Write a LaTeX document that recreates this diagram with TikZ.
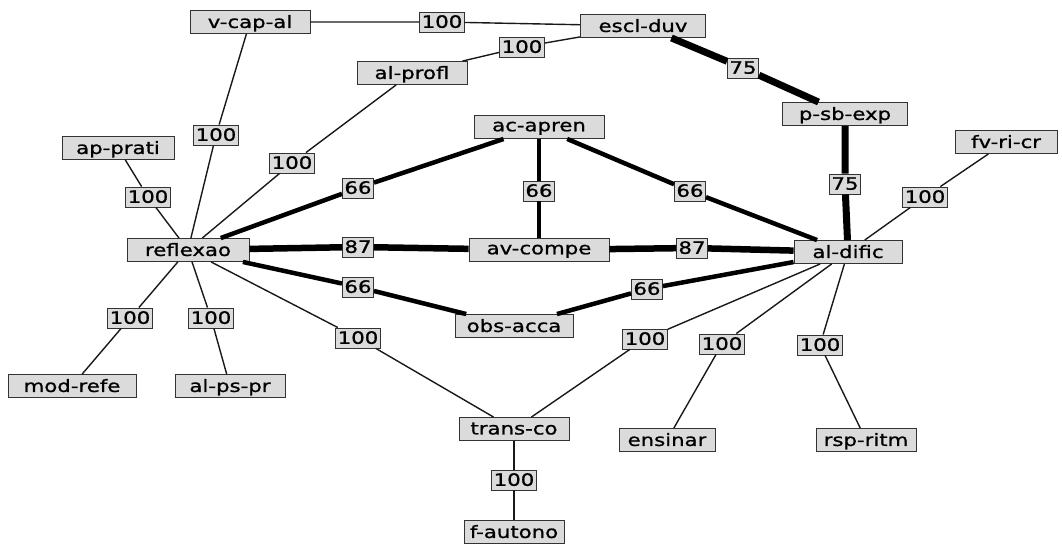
\documentclass[tikz,border=0pt]{standalone}
\usepackage{fontspec}
\newfontfamily\pixfont[FakeStretch=1.25,FakeBold=1]{DejaVu Sans}
\tikzset{
  box/.style={draw=black!80, fill=gray!28, line width=0.9pt, font=\pixfont\fontsize{17}{17}\selectfont,
    inner xsep=3pt, inner ysep=1pt, minimum height=23pt, text depth=1pt},
  lab/.style={box, minimum height=20pt, inner xsep=2pt},
  e100/.style={line width=1.4pt, black!90},
  e66/.style={line width=4.5pt, black},
  e75/.style={line width=7pt, black},
  e87/.style={line width=6.5pt, black},
}
\begin{document}
\begin{tikzpicture}[x=1pt,y=-1pt]
\useasboundingbox (0,0) rectangle (1062,548);
% main nodes
\node[box, minimum width=120pt] (vcap) at (250,22) {v-cap-al};
\node[box, minimum width=125pt] (escl) at (643,26) {escl-duv};
\node[box, minimum width=110pt] (alprofl) at (412,73) {al-profl};
\node[box, minimum width=125pt] (psb) at (845,114) {p-sb-exp};
\node[box, minimum width=130pt] (acapren) at (539,127) {ac-apren};
\node[box, minimum width=112pt] (approti) at (118,148) {ap-prati};
\node[box, minimum width=102pt] (fvri) at (1006,142) {fv-ri-cr};
\node[box, minimum width=122pt] (refl) at (188,250) {reflexao};
\node[box, minimum width=140pt] (avcompe) at (539,250) {av-compe};
\node[box, minimum width=108pt] (aldific) at (848,252) {al-dific};
\node[box, minimum width=118pt] (obsacca) at (514,326) {obs-acca};
\node[box, minimum width=128pt] (modrefe) at (72,386) {mod-refe};
\node[box, minimum width=110pt] (alpspr) at (230,386) {al-ps-pr};
\node[box, minimum width=110pt] (transco) at (514,429) {trans-co};
\node[box, minimum width=96pt] (ensinar) at (667,440) {ensinar};
\node[box, minimum width=100pt] (rspritm) at (866,440) {rsp-ritm};
\node[box, minimum width=100pt] (fautono) at (514,532) {f-autono};
% labels
\node[lab] (l1) at (442,22) {100};
\node[lab] (l2) at (522,47) {100};
\node[lab] (l3) at (743,68) {75};
\node[lab] (l4) at (216,135) {100};
\node[lab] (l5) at (292,163) {100};
\node[lab] (l6) at (148,197) {100};
\node[lab] (l7) at (358,188) {66};
\node[lab] (l8) at (539,191) {66};
\node[lab] (l9) at (690,191) {66};
\node[lab] (l10) at (845,184) {75};
\node[lab] (l11) at (925,197) {100};
\node[lab] (l12) at (358,247) {87};
\node[lab] (l13) at (692,248) {87};
\node[lab] (l14) at (358,287) {66};
\node[lab] (l15) at (647,289) {66};
\node[lab] (l16) at (358,338) {100};
\node[lab] (l17) at (130,318) {100};
\node[lab] (l18) at (211,318) {100};
\node[lab] (l19) at (645,339) {100};
\node[lab] (l20) at (722,344) {100};
\node[lab] (l21) at (820,345) {100};
\node[lab] (l22) at (514,480) {100};
% edges
\draw[e100] (vcap) -- (l1) -- (escl);
\draw[e100] (escl) -- (l2) -- (alprofl);
\draw[e75] (escl) -- (l3) -- (psb);
\draw[e100] (vcap) -- (l4) -- (refl);
\draw[e100] (alprofl) -- (l5) -- (refl);
\draw[e100] (approti) -- (l6) -- (refl);
\draw[e66] (refl) -- (l7) -- (acapren);
\draw[e66] (acapren) -- (l8) -- (avcompe);
\draw[e66] (acapren) -- (l9) -- (aldific);
\draw[e75] (psb) -- (l10) -- (aldific);
\draw[e100] (fvri) -- (l11) -- (aldific);
\draw[e87] (refl) -- (l12) -- (avcompe);
\draw[e87] (avcompe) -- (l13) -- (aldific);
\draw[e66] (refl) -- (l14) -- (obsacca);
\draw[e66] (obsacca) -- (l15) -- (aldific);
\draw[e100] (refl) -- (l16) -- (transco);
\draw[e100] (refl) -- (l17) -- (modrefe);
\draw[e100] (refl) -- (l18) -- (alpspr);
\draw[e100] (aldific) -- (l19) -- (transco);
\draw[e100] (aldific) -- (l20) -- (ensinar);
\draw[e100] (aldific) -- (l21) -- (rspritm);
\draw[e100] (transco) -- (l22) -- (fautono);
\end{tikzpicture}
\end{document}
